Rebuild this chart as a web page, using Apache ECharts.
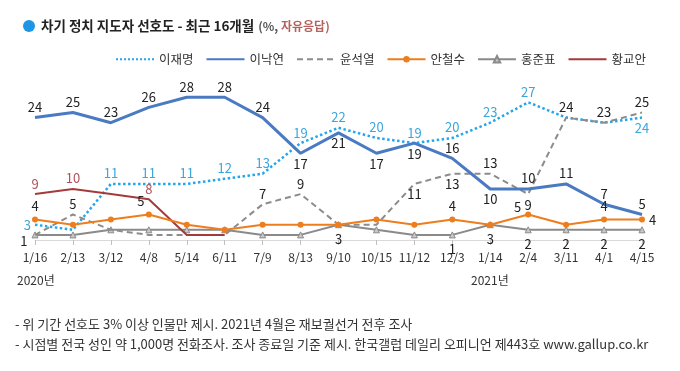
<!DOCTYPE html>
<html><head><meta charset="utf-8">
<script src="https://cdn.jsdelivr.net/npm/echarts@6/dist/echarts.min.js"></script>
<style>html,body{margin:0;padding:0;background:#fff}#c{width:680px;height:371px}</style>
</head><body><div id="c"></div>
<script>
const categories = ['1/16','2/13','3/12','4/8','5/14','6/11','7/9','8/13','9/10','10/15','11/12','12/3','1/14','2/4','3/11','4/1','4/15'];
const leeJM   = [3,2,11,11,11,12,13,19,22,20,19,20,23,27,24,23,24];
const leeNY   = [24,25,23,26,28,28,24,17,21,17,19,16,10,10,11,7,5];
const yoonSY  = [1,5,2,1,1,1,7,9,3,3,11,13,13,9,24,23,25];
const ahnCS   = [4,3,4,5,3,2,3,3,3,4,3,4,3,5,3,4,4];
const hongJP  = [1,1,2,2,2,2,1,1,3,2,1,1,3,2,2,2,2];
const hwangKA = [9,10,9,8,1,1,null,null,null,null,null,null,null,null,null,null,null];
const seriesNames = ['이재명','이낙연','윤석열','안철수','홍준표','황교안'];

// label placement (style only)
const posJM   = ['left',null,'top','top','top','top','top','top','top','top','top','top','top','top',null,null,'bottom'];
const posNY   = ['top','top','top','top','top','top','top','bottom','bottom','bottom','bottom','top','bottom','top','top','top','top'];
const posYS   = [null,'top',null,null,null,null,'top','top',null,null,'bottom','bottom','top','bottom','top','top','top'];
const posAC   = ['top',null,null,'top',null,null,null,null,null,null,null,'top',null,'left',null,'top','right'];
const posHJ   = ['left',null,null,null,null,null,null,null,'bottom',null,null,'bottom','bottom','bottom','bottom','bottom','bottom'];
const posHK   = ['top','top',null,'top',null,null,null,null,null,null,null,null,null,null,null,null,null];
const offAC   = {3:[-8,0],13:[0,-7]};
const offHJ   = {0:[0,6]};

const FONT = '"Noto Sans CJK KR","Noto Sans",sans-serif';

function build(vals, pos, color, offs){
  return vals.map((v,i)=>{
    if (v===null) return null;
    const p = pos[i];
    const item = {value:v};
    if (p) {
      item.label = {show:true, position:p, color:color, fontSize:13, fontFamily:FONT, distance:4};
      if (offs && offs[i]) item.label.offset = offs[i];
    } else {
      item.label = {show:false};
    }
    return item;
  });
}

const chart = echarts.init(document.getElementById('c'), null, {renderer:'canvas'});
const dark = '#222';
chart.setOption({
  animation:false,
  textStyle:{fontFamily:FONT},
  title:{
    left:18, top:12,
    text:'{c|}{s|}{b|차기 정치 지도자 선호도 - 최근 16개월} {g|(%, }{r|자유응답)}',
    textStyle:{rich:{
      c:{width:12,height:12,borderRadius:6,backgroundColor:'#1E96E6'},
      s:{width:6},
      b:{fontSize:13.5,fontWeight:'bold',color:'#222',fontFamily:FONT},
      g:{fontSize:12,color:'#555',fontFamily:FONT},
      r:{fontSize:12,color:'#B5625C',fontFamily:FONT}
    }}
  },
  legend:{
    left:110, top:48, itemWidth:38, itemHeight:8, itemGap:12,
    textStyle:{fontSize:12.5,color:'#333',fontFamily:FONT},
    data:[
      {name:'이재명', itemStyle:{opacity:0}},
      {name:'이낙연', itemStyle:{opacity:0}},
      {name:'윤석열', itemStyle:{opacity:0}},
      {name:'안철수'},
      {name:'홍준표'},
      {name:'황교안', itemStyle:{opacity:0}}
    ]
  },
  graphic:[
    {type:'text', left:17, top:274, style:{text:'2020년', fontSize:12, fill:'#333', fontFamily:FONT}},
    {type:'text', left:471, top:274, style:{text:'2021년', fontSize:12, fill:'#333', fontFamily:FONT}},
    {type:'text', left:15, top:318, style:{text:'- 위 기간 선호도 3% 이상 인물만 제시. 2021년 4월은 재보궐선거 전후 조사', fontSize:13, fill:'#333', fontFamily:FONT}},
    {type:'text', left:15, top:338, style:{text:'- 시점별 전국 성인 약 1,000명 전화조사. 조사 종료일 기준 제시. 한국갤럽 데일리 오피니언 제443호 www.gallup.co.kr', fontSize:13, fill:'#333', fontFamily:FONT}}
  ],
  grid:{left:35, right:38, top:87, bottom:131, containLabel:false},
  xAxis:{
    type:'category', data:categories, boundaryGap:false,
    axisLine:{lineStyle:{color:'#D9D9D9',width:1}},
    axisTick:{show:true,length:5,alignWithLabel:true,lineStyle:{color:'#BFBFBF'}},
    axisLabel:{color:'#333',fontSize:12,margin:11,fontFamily:FONT,interval:0}
  },
  yAxis:{type:'value', min:0, max:30, show:false, splitLine:{show:false}},
  series:[
    {name:'이재명', type:'line', data:build(leeJM,posJM,'#3AA6DD'), symbol:'circle', symbolSize:0,
      lineStyle:{color:'#22A6EE',width:2.5,type:'dotted'}, itemStyle:{color:'#22A6EE'}, z:3},
    {name:'이낙연', type:'line', data:build(leeNY,posNY,dark), symbol:'circle', symbolSize:0,
      lineStyle:{color:'#4A7AC2',width:3}, itemStyle:{color:'#4A7AC2'}, z:4},
    {name:'윤석열', type:'line', data:build(yoonSY,posYS,dark), symbol:'circle', symbolSize:0,
      lineStyle:{color:'#8C8C8C',width:2,type:[6,4]}, itemStyle:{color:'#8C8C8C'}, z:3},
    {name:'안철수', type:'line', data:build(ahnCS,posAC,dark,offAC), symbol:'circle', symbolSize:6,
      lineStyle:{color:'#EE7D1E',width:2}, itemStyle:{color:'#EE7D1E'}, z:5},
    {name:'홍준표', type:'line', data:build(hongJP,posHJ,dark,offHJ), symbol:'triangle', symbolSize:6,
      lineStyle:{color:'#8A8A8A',width:2}, itemStyle:{color:'#C8C8C8',borderColor:'#8A8A8A',borderWidth:1}, z:2},
    {name:'황교안', type:'line', data:build(hwangKA,posHK,'#B0505A'), symbol:'circle', symbolSize:0,
      lineStyle:{color:'#A33B3B',width:2}, itemStyle:{color:'#A33B3B'}, z:3, connectNulls:false}
  ]
});
</script></body></html>
